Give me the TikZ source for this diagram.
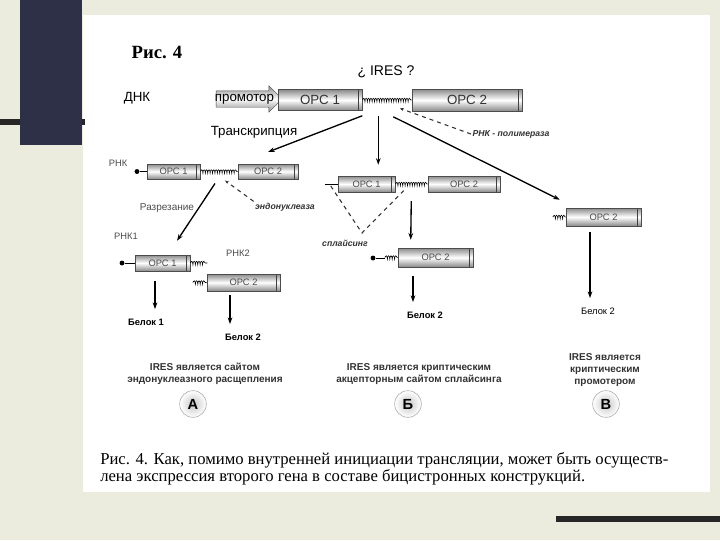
\documentclass[tikz,border=0pt]{standalone}
\usepackage{fontspec}
\setmainfont{Liberation Sans}
\newfontfamily\capserif{Liberation Serif}
\usepackage{tikz}
\usetikzlibrary{positioning,arrows.meta,calc,decorations.pathmorphing,shapes.arrows}
\definecolor{paper}{HTML}{ECECDE}
\definecolor{navy}{HTML}{2D3046}
\definecolor{bar}{HTML}{262626}
\definecolor{orfgray}{HTML}{8A8A8A}
\definecolor{ink}{HTML}{333333}

\begin{document}
\begin{tikzpicture}[x=0.75pt,y=-0.75pt,
  orf/.style={draw=gray!60!black,line width=0.4pt,top color=orfgray,bottom color=orfgray,middle color=white,
    inner sep=0pt,text=ink,
    path picture={\draw[gray!50!black] ([xshift=-2.5pt]path picture bounding box.north east)--([xshift=-2.5pt]path picture bounding box.south east);}},
  small/.style={font=\fontsize{7}{8}\selectfont,text=gray!60!black},
  linker/.style={decorate,decoration={coil,aspect=0.5,segment length=1.8pt,amplitude=1.3pt},line width=0.45pt},
  arr/.style={-{Stealth[length=5pt,width=3.5pt]},line width=1pt},
  dsh/.style={dashed,line width=0.8pt,gray!40!black},
  capdot/.style={circle,fill=black,inner sep=1.3pt},
  lbl/.style={inner sep=1pt,font=\bfseries\fontsize{7}{8}\selectfont},
  note/.style={align=center,inner sep=1pt,font=\bfseries\fontsize{7.5}{9}\selectfont,text=ink},
  ltr/.style={circle,draw=gray!70,inner color=gray!45,outer color=white,minimum size=20pt,inner sep=0pt,font=\bfseries\fontsize{11}{12}\selectfont}]
  \useasboundingbox (0,0) rectangle (720,540);
  % slide background
  \fill[paper] (0,0) rectangle (720,540);
  \fill[white] (83,15) rectangle (710,492);
  \fill[bar] (0,119) rectangle (85,125);
  \fill[navy] (20,0) rectangle (82,145);
  \fill[bar] (556,516) rectangle (720,522);

  \node[font=\capserif\bfseries\fontsize{14}{16}\selectfont] (fig) at (157,52) {Рис. 4};

  % DNA
  \node[font=\fontsize{10}{12}\selectfont] (dna) at (137,98) {ДНК};
  \node[single arrow,single arrow head extend=3.75pt,minimum height=49.5pt,inner xsep=0pt,inner ysep=6pt,
    draw=gray!60!black,line width=0.3pt,top color=orfgray,bottom color=orfgray,middle color=white] (prom) at (245,99) {};
  \node[font=\fontsize{10}{12}\selectfont] (promtxt) at (244.5,99) {промотор};
  \node[orf,minimum width=63pt,minimum height=15.75pt,font=\fontsize{10}{12}\selectfont] (dnaorf1) at (320,100) {ОРС 1};
  \node[orf,minimum width=82.5pt,minimum height=16.5pt,font=\fontsize{10}{12}\selectfont] (dnaorf2) at (467,100) {ОРС 2};
  \draw[linker] (dnaorf1.east) -- (dnaorf2.west);
  \node[font=\fontsize{10.5}{12}\selectfont] (ires) at (386,72) {¿ IRES ?};
  \node[font=\fontsize{10}{12}\selectfont] (trans) at (254,132) {Транскрипция};
  \node[lbl,font=\bfseries\itshape\fontsize{6.5}{8}\selectfont,text=gray!40!black] (pol) at (511,134) {РНК - полимераза};
  \draw[dsh,-{Stealth[length=3pt]}] (pol.west) -- ($(dnaorf2.south west)+(-12,-3)$);

  % A: endonuclease
  \coordinate (trend) at (268,152);
  \draw[arr] ($(dnaorf1.south east)+(0,5)$) -- (trend);
  \node[small] (rnalbl) at (118,163) {РНК};
  \node[orf,minimum width=39.75pt,minimum height=11.25pt,small] (rnaorf1) at (173.5,171.5) {ОРС 1};
  \node[orf,minimum width=45pt,minimum height=11.25pt,small] (rnaorf2) at (268,171.5) {ОРС 2};
  \node[capdot] (cap1) at (137,171.5) {};
  \draw (cap1) -- (rnaorf1.west);
  \draw[linker] (rnaorf1.east) -- (rnaorf2.west);
  \coordinate (cutsite) at ($(rnaorf1.east)!0.5!(rnaorf2.west)$);
  \node[lbl,font=\bfseries\itshape\fontsize{6.5}{8}\selectfont,text=gray!40!black] (endo) at (285,207) {эндонуклеаза};
  \draw[dsh,-{Stealth[length=3pt]}] (endo.north west) -- ($(cutsite)+(6,9)$);
  \node[small,font=\fontsize{7.5}{9}\selectfont] (cutlbl) at (167,208) {Разрезание};
  \node[small] (rna1lbl) at (126,236) {РНК1};
  \node[orf,minimum width=41.25pt,minimum height=12pt,small] (cutorf1) at (162.5,263) {ОРС 1};
  \node[capdot] (cap2) at (122,263) {};
  \draw (cap2) -- (cutorf1.west);
  \draw[linker] (cutorf1.east) -- ++(17,0);
  \draw[arr] ($(cutsite)+(-4,12)$) -- ($(cutorf1.north)+(14.5,-14)$);
  \node[small] (rna2lbl) at (238,253) {РНК2};
  \node[orf,minimum width=54.75pt,minimum height=12.75pt,small] (cutorf2) at (243.5,282.5) {ОРС 2};
  \draw[linker] ($(cutorf2.west)+(-14,0)$) -- (cutorf2.west);
  \node[lbl] (prot1) at (146,322) {Белок 1};
  \node[lbl] (prot2) at (243,337) {Белок 2};
  \draw[arr] ($(cutorf1.south)+(-7.5,10)$) -- ($(prot1.north)+(9,-8)$);
  \draw[arr] ($(cutorf2.south)+(-13.5,4)$) -- ($(prot2.north)+(-13,-8)$);

  % B: splicing
  \draw[arr] ($(dnaorf1.south east)+(16,5)$) -- ++(0,49);
  \node[orf,minimum width=42.75pt,minimum height=12pt,small] (midorf1) at (366.5,184) {ОРС 1};
  \node[orf,minimum width=54pt,minimum height=12pt,small] (midorf2) at (464,184) {ОРС 2};
  \coordinate (midtail) at (325,184);
  \draw (midtail) -- (midorf1.west);
  \draw[linker] (midorf1.east) -- (midorf2.west);
  \coordinate (splc) at (362,233);
  \draw[dsh] ($(midorf1.west)+(-7,2)$) -- (splc) -- ($(midorf1.east)+(10,5)$);
  \node[lbl,font=\bfseries\itshape\fontsize{6.5}{8}\selectfont,text=gray!40!black] (splbl) at (345,243) {сплайсинг};
  \node[orf,minimum width=56.25pt,minimum height=14.25pt,small] (splorf) at (435.5,257.5) {ОРС 2};
  \node[capdot] (cap3) at (373,258) {};
  \draw (cap3) -- ++(12,0);
  \draw[linker] ($(splorf.west)+(-13,0)$) -- (splorf.west);
  \draw[arr] ($(midorf1.east)+(16,17)$) -- ($(splorf.north west)+(13,-8)$);
  \node[lbl] (prot3) at (425,315) {Белок 2};
  \draw[arr] ($(splorf.south)+(-22.5,9)$) -- ($(prot3.north)+(-12,-8)$);

  % C: cryptic promoter
  \node[orf,minimum width=56.25pt,minimum height=13.5pt,small] (rightorf) at (603.5,217) {ОРС 2};
  \draw[linker] ($(rightorf.west)+(-13,0)$) -- (rightorf.west);
  \draw[arr] ($(dnaorf1.south east)+(31,6)$) -- ($(rightorf.north west)+(-6,-8)$);
  \node[lbl,font=\fontsize{7}{8}\selectfont] (prot4) at (598,311) {Белок 2};
  \draw[arr] ($(rightorf.south)+(-13.5,6)$) -- ($(prot4.north)+(-8,-8)$);

  % explanations
  \node[note] (expA) at (205,374) {IRES является сайтом\\эндонуклеазного расщепления};
  \node[note] (expB) at (419,374) {IRES является криптическим\\акцепторным сайтом сплайсинга};
  \node[note] (expC) at (605,370) {IRES является\\криптическим\\промотером};
  \node[ltr] (circA) at (193,404) {А};
  \node[ltr] (circB) at (408,404) {Б};
  \node[ltr] (circC) at (606,404) {В};

  \node[anchor=north west,align=left,inner sep=0pt,font=\capserif\fontsize{12.5}{11.5}\selectfont] (caption) at (100,452)
    {Рис. 4. Как, помимо внутренней инициации трансляции, может быть осуществ-\\лена экспрессия второго гена в составе бицистронных конструкций.};
\end{tikzpicture}
\end{document}
